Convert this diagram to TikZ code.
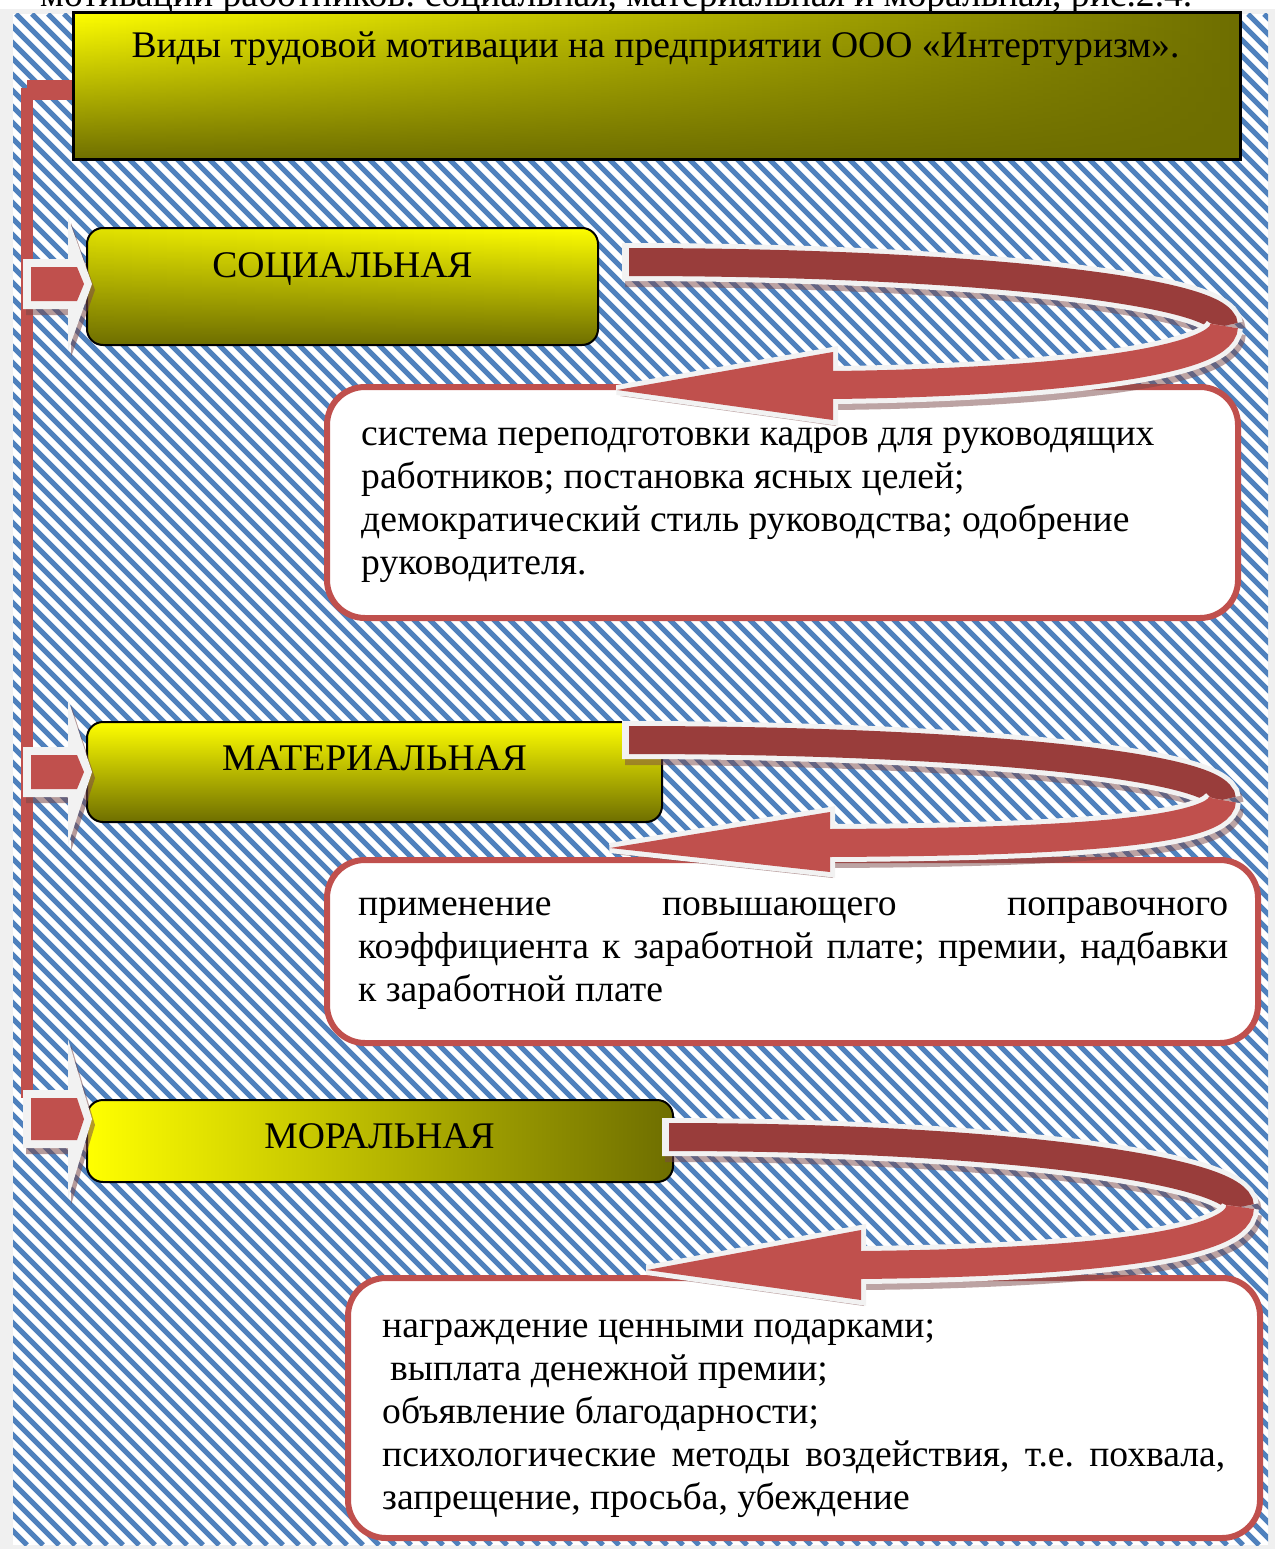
\documentclass[tikz,border=0pt]{standalone}
\usepackage{fontspec}
\setmainfont{Liberation Serif}
\usetikzlibrary{fadings}
\definecolor{hatchblue}{HTML}{4F81BD}
\definecolor{ribred}{HTML}{C0504D}
\definecolor{ribdark}{HTML}{993D3B}
\definecolor{ribwhite}{HTML}{F2F2F2}
\definecolor{ribshade}{HTML}{7A4848}
\definecolor{oliv}{HTML}{6E6E00}
\definecolor{yel}{HTML}{FFFF00}
\definecolor{framegray}{HTML}{F0F0F0}
\tikzfading[name=fadedown, top color=transparent!100, bottom color=transparent!0]

\newcommand\ribbon[3]{%
  \begin{scope}[transform canvas={shift={(3,6)}}]
    \draw[shadowline] #1 #2;
    \fill[shadowfill] #3;
  \end{scope}
  \draw[whiteband] #1;
  \draw[darkband, shorten <=7pt] #1;
  \draw[whiteband] #2;
  \filldraw[whitehead] #3;
  \draw[lightband] #2;
  \fill[ribred] #3;
}
\newcommand\sidearrow[3]{%
  \fill[ribshade, opacity=.55] (26,{#1-#2+6}) -- (71,{#1-#2+6}) -- (71,{#1-#3+6}) -- (95,{#1+6}) -- (71,{#1+#3+6}) -- (71,{#1+#2+6}) -- (26,{#1+#2+6}) -- cycle;
  \fill[ribwhite] (23,{#1-#2}) -- (68,{#1-#2}) -- (68,{#1-#3}) -- (92,#1) -- (68,{#1+#3}) -- (68,{#1+#2}) -- (23,{#1+#2}) -- cycle;
  \fill[ribred] (31,{#1-#2+8}) -- (77,{#1-#2+8}) -- (84,#1) -- (77,{#1+#2-8}) -- (31,{#1+#2-8}) -- cycle;
}

\begin{document}
\frenchspacing
\begin{tikzpicture}[x=1pt,y=-1pt,
  stripe/.style={hatchblue, line width=5pt},
  labelborder/.style={draw=black, line width=2pt, rounded corners=16pt},
  textbox/.style={draw=ribred, line width=6pt, fill=white, rounded corners=38pt},
  bodytext/.style={font=\fontsize{37.6}{43}\selectfont, anchor=base west, inner sep=0pt},
  labeltext/.style={font=\fontsize{37.6}{43}\selectfont, anchor=base, inner sep=0pt},
  shadowline/.style={ribshade, opacity=.5, line width=38pt},
  shadowfill/.style={ribshade, opacity=.5},
  whiteband/.style={ribwhite, line width=38pt},
  darkband/.style={ribdark, line width=28pt},
  lightband/.style={ribred, line width=28pt},
  whitehead/.style={fill=ribwhite, draw=ribwhite, line width=10pt, line join=miter, miter limit=3}
]
\useasboundingbox (0,0) rectangle (1275,1549);
% background and frame
\fill[framegray] (0,0) rectangle (1275,1549);
\fill[white] (0,0) rectangle (1275,9);
\fill[white] (13,14) rectangle (1268,1545);
\begin{scope}
  \clip (13,14) rectangle (1268,1545);
  \foreach \i in {-1536,-1520,...,1268} \draw[stripe] (\i,14) -- ++(1531,1531);
\end{scope}
% clipped top line (cut by the page edge, as in the source)
\node[bodytext] (topline) at (40,7) {мотивации работников: социальная, материальная и моральная, рис.2.4.};

% red spine
\fill[ribred] (27,80) rectangle (73,100);
\fill[ribred] (21,88) rectangle (33,1098);

% title box
\shade[left color=yel, right color=oliv] (73,13) rectangle (1240,160);
\fill[oliv, path fading=fadedown] (73,13) rectangle (1240,160);
\draw[black, line width=3pt] (73,13) rectangle (1240,160);
\node[labeltext] (title) at (655.5,58) {Виды трудовой мотивации на предприятии ООО «Интертуризм».};

% label boxes
\shade[left color=yel!80!oliv, right color=yel, rounded corners=16pt] (87,228) rectangle (598,345);
\fill[oliv, path fading=fadedown, rounded corners=16pt] (87,228) rectangle (598,345);
\draw[labelborder] (87,228) rectangle (598,345);

\shade[top color=yel, bottom color=oliv, rounded corners=16pt] (87,722) rectangle (662,822);
\draw[labelborder] (87,722) rectangle (662,822);

\shade[left color=yel, right color=oliv, rounded corners=16pt] (87,1100) rectangle (673,1182);
\draw[labelborder] (87,1100) rectangle (673,1182);

% side arrows
\sidearrow{284}{25}{67}
\sidearrow{772}{25}{73}
\sidearrow{1119}{29}{80}

% label texts
\node[labeltext] (soc) at (342.5,277) {СОЦИАЛЬНАЯ};
\node[labeltext] (mat) at (374.5,770) {МАТЕРИАЛЬНАЯ};
\node[labeltext] (mor) at (379.5,1148) {МОРАЛЬНАЯ};

% text boxes
\draw[textbox] (327,387) rectangle (1238,618);
\draw[textbox] (327,860) rectangle (1258,1043);
\draw[textbox] (348,1278) rectangle (1260,1538);

% ribbons
\ribbon{(622,262) .. controls (960,262) and (1224,290) .. (1224,326)}
       {(1224,326) .. controls (1224,366) and (1020,383) .. (833,385)}
       {(833,352) -- (617,390) -- (833,420) -- cycle}
\ribbon{(622,740) .. controls (960,740) and (1222,765) .. (1222,800)}
       {(1222,800) .. controls (1222,836) and (1020,842) .. (830,843)}
       {(830,812) -- (610,848) -- (830,872) -- cycle}
\ribbon{(662,1137) .. controls (1000,1137) and (1240,1170) .. (1240,1207)}
       {(1240,1207) .. controls (1240,1250) and (1050,1263) .. (861,1265)}
       {(861,1230) -- (647,1270) -- (861,1300) -- cycle}

% box texts
\node[bodytext] (t1a) at (361,445) {система переподготовки кадров для руководящих};
\node[bodytext] (t1b) at (361,488) {работников; постановка ясных целей;};
\node[bodytext] (t1c) at (361,531) {демократический стиль руководства; одобрение};
\node[bodytext] (t1d) at (361,574) {руководителя.};

\node[bodytext] (t2a) at (358,915) {\makebox[870pt][s]{применение повышающего поправочного}};
\node[bodytext] (t2b) at (358,958) {\makebox[870pt][s]{коэффициента к заработной плате; премии, надбавки}};
\node[bodytext] (t2c) at (358,1001) {к заработной плате};

\node[bodytext] (t3a) at (382,1337) {награждение ценными подарками;};
\node[bodytext] (t3b) at (390,1380) {выплата денежной премии;};
\node[bodytext] (t3c) at (382,1423) {объявление благодарности;};
\node[bodytext] (t3d) at (382,1466) {\makebox[843pt][s]{психологические методы воздействия, т.е. похвала,}};
\node[bodytext] (t3e) at (382,1509) {запрещение, просьба, убеждение};
\end{tikzpicture}
\end{document}
